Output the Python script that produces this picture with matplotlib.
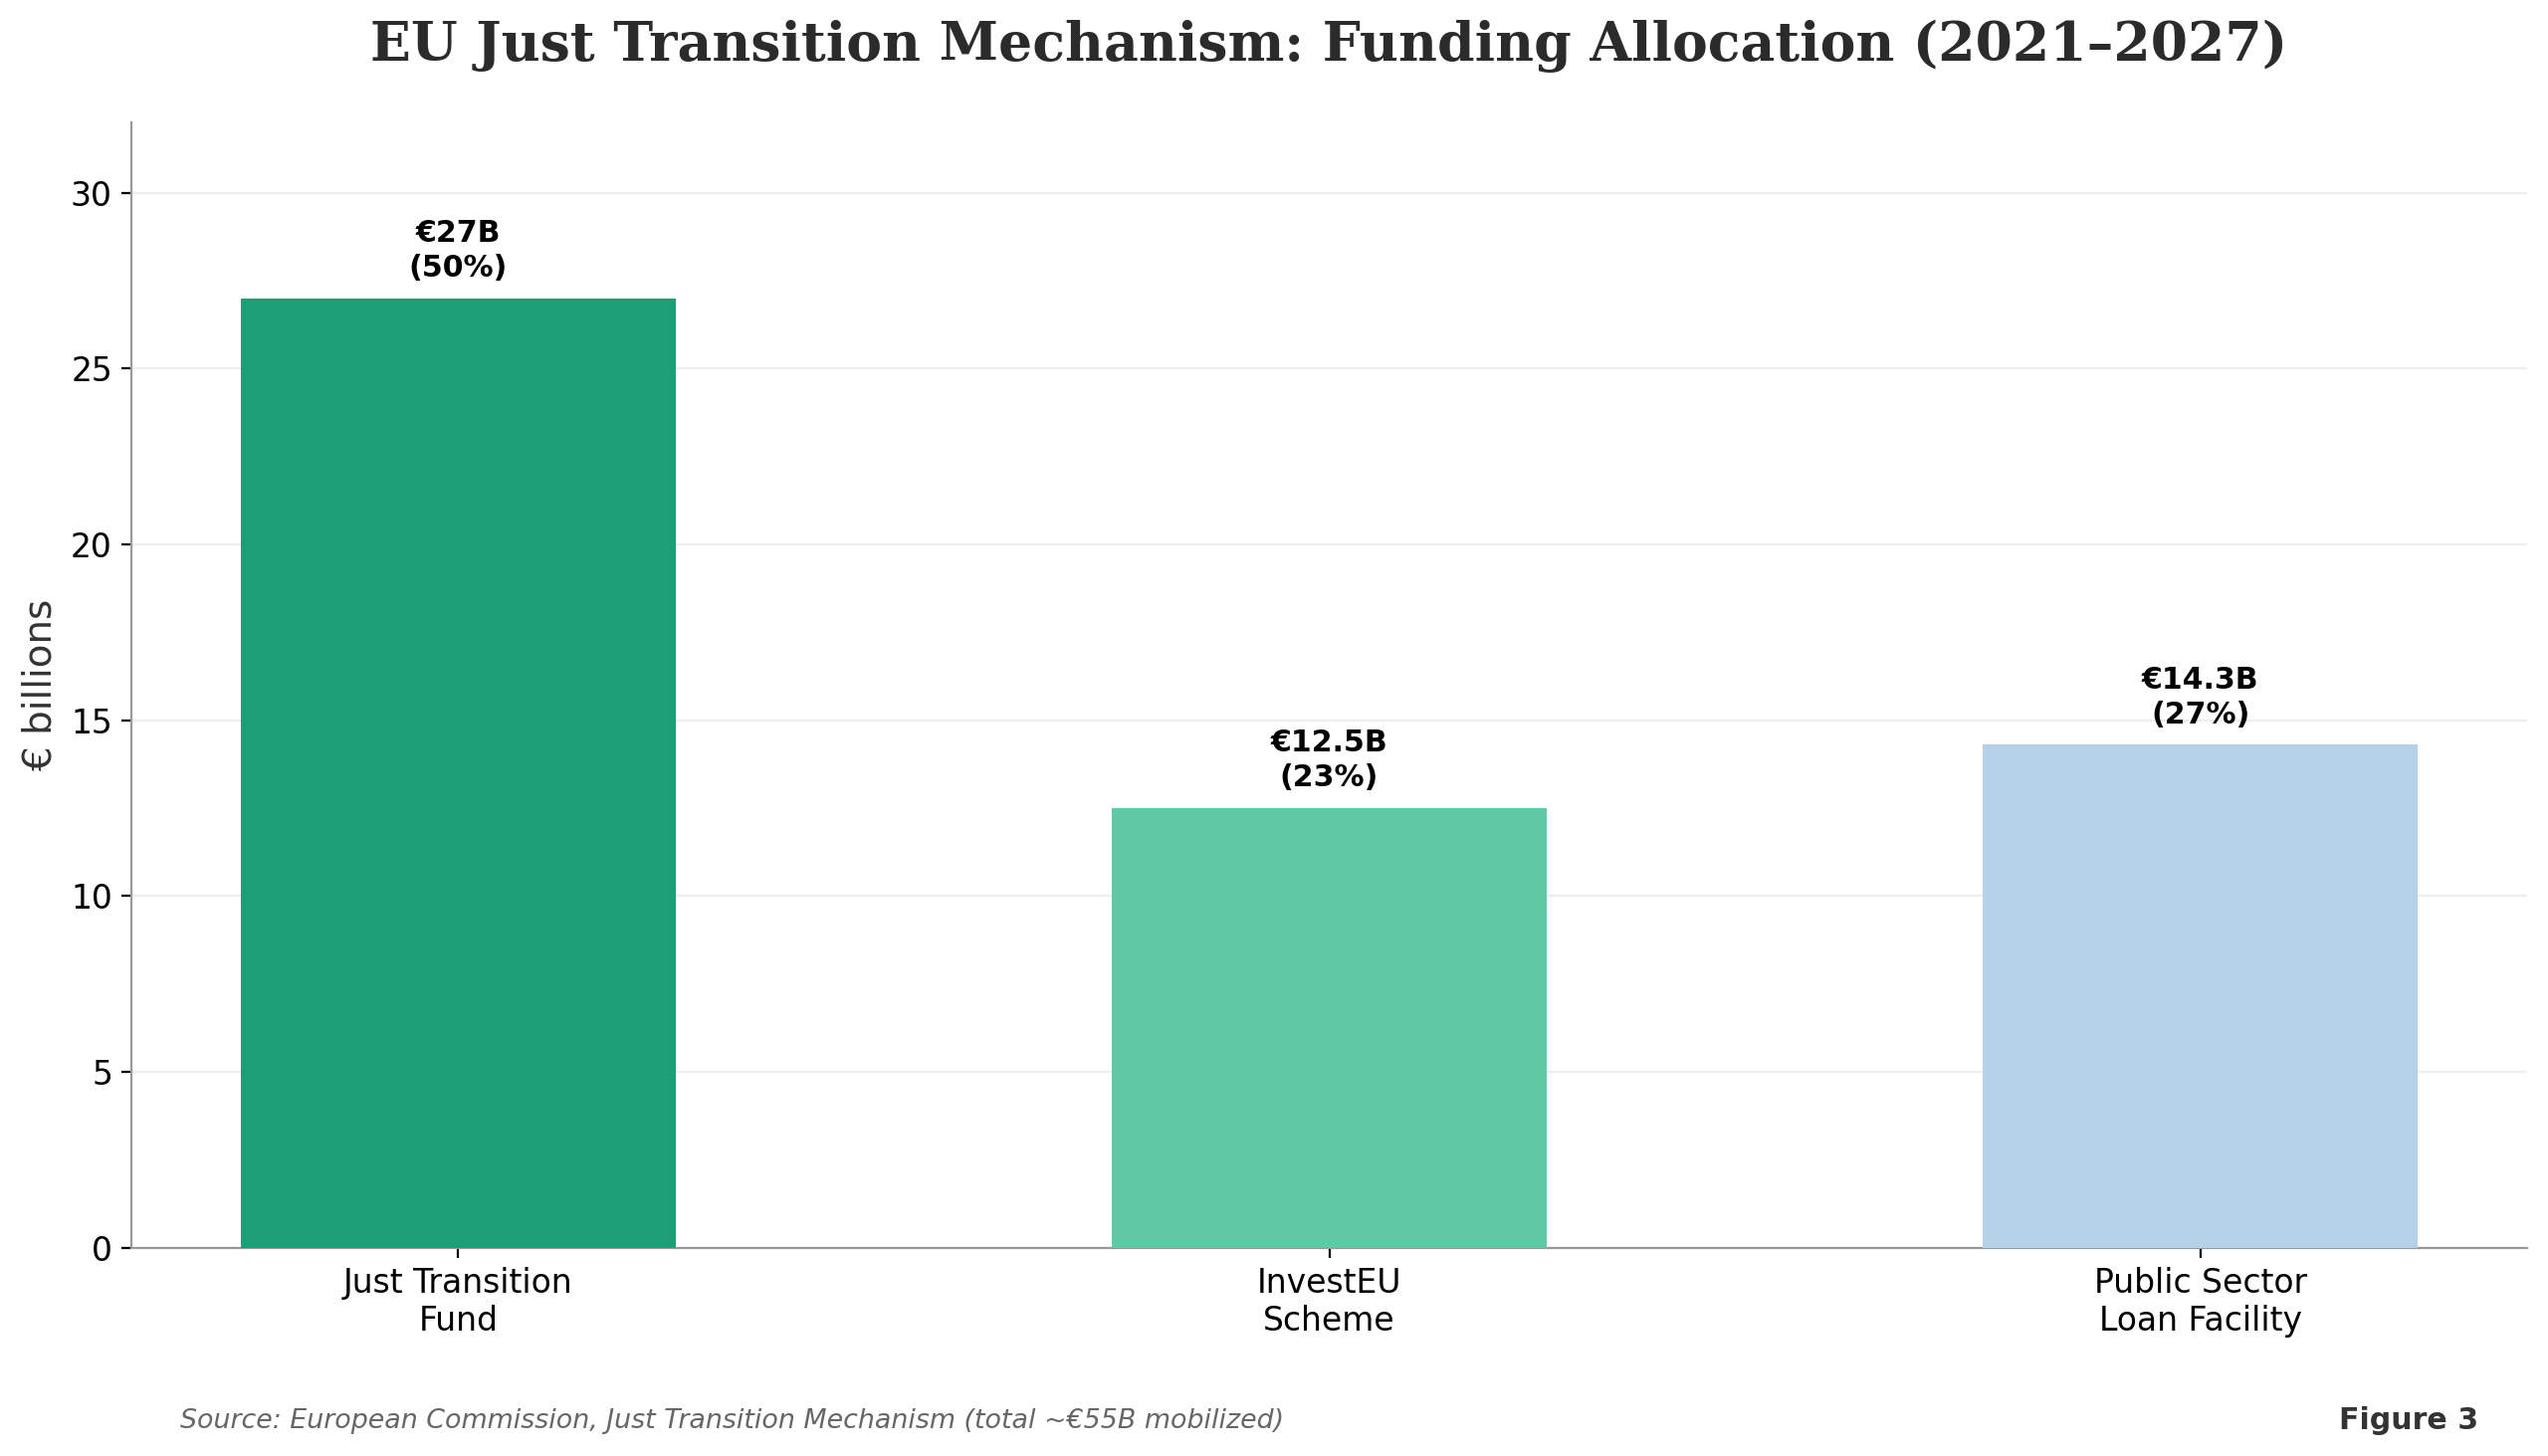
import matplotlib.pyplot as plt

# data
categories = ["Just Transition\nFund", "InvestEU\nScheme", "Public Sector\nLoan Facility"]
values = [27, 12.5, 14.3]
value_labels = ["€27B", "€12.5B", "€14.3B"]
shares = [50, 23, 27]
colors = ["#1e9e75", "#5ec9a4", "#b4d1e7"]

fig = plt.figure(figsize=(12.8, 7.315), dpi=200)
ax = fig.add_axes([0.0517, 0.143, 0.94, 0.773])

x = list(range(len(categories)))
ax.bar(x, values, width=0.5, color=colors, zorder=3)

for xi, v, lab, s in zip(x, values, value_labels, shares):
    ax.text(xi, v + 0.45, f"{lab}\n({s}%)", ha="center", va="bottom",
            fontsize=10.8, fontweight="bold", color="black", linespacing=1.25)

ax.set_xticks(x)
ax.set_xticklabels(categories, fontsize=11.9)
ax.tick_params(axis="y", labelsize=11.9)
ax.set_ylim(0, 32)
ax.set_ylabel("€ billions", fontsize=14, color="#333333", labelpad=4)

ax.grid(axis="y", color="#eeeeee", linewidth=0.8, zorder=0)
ax.set_axisbelow(True)
for s in ["top", "right"]:
    ax.spines[s].set_visible(False)
for s in ["left", "bottom"]:
    ax.spines[s].set_color("#999999")
    ax.spines[s].set_linewidth(0.8)

# title centred over the axes
fig.text(0.5217, 0.968, "EU Just Transition Mechanism: Funding Allocation (2021–2027)",
         fontsize=19.3, fontweight="bold", family="DejaVu Serif", color="#2b2b2b",
         ha="center", va="center")

fig.text(0.0708, 0.024, "Source: European Commission, Just Transition Mechanism (total ~€55B mobilized)",
         fontsize=9.7, style="italic", color="#666666", va="center")
fig.text(0.9726, 0.024, "Figure 3", fontsize=10.8, fontweight="bold", color="#333333", ha="right", va="center")

fig.savefig("out.png", dpi=200)
